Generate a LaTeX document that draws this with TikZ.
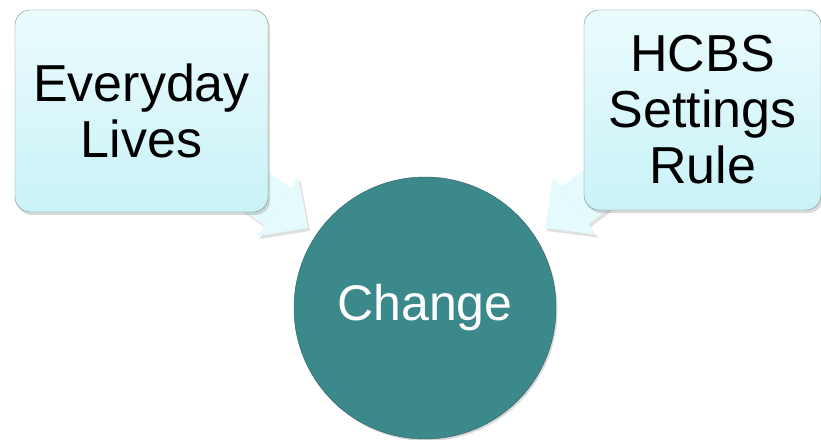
\documentclass[tikz,border=0pt]{standalone}
\usepackage{fontspec}
\setmainfont{Liberation Sans}
\usetikzlibrary{shapes.geometric, arrows.meta, shadows, backgrounds}
\definecolor{boxtop}{HTML}{EBFBFC}
\definecolor{boxbot}{HTML}{C9F3F8}
\definecolor{boxline}{HTML}{7C8B8D}
\definecolor{changefill}{HTML}{3C898C}
\definecolor{changeline}{HTML}{2E5E60}
\definecolor{arrowfill}{HTML}{E4FAFC}
\tikzstyle{stylebox} = [rectangle, rounded corners=15pt, minimum width=253pt, minimum height=202pt, text centered, align=center, draw=boxline, top color=boxtop, bottom color=boxbot, drop shadow={shadow xshift=2pt, shadow yshift=-3pt, opacity=0.3}, font=\fontsize{52}{56}\selectfont]
\tikzstyle{stylecircle} = [circle, minimum size=262pt, draw=changeline, fill=changefill, text=white, drop shadow={shadow xshift=1.5pt, shadow yshift=-2pt, opacity=0.3}, font=\fontsize{50}{58}\selectfont]
\tikzstyle{stylearrow} = [line width=46pt, draw=arrowfill, -{Triangle[length=37pt, width=72pt, line width=0pt]}]
\tikzstyle{styleshadow} = [line width=46pt, draw=black!12, -{Triangle[length=37pt, width=72pt, line width=0pt]}, transform canvas={shift={(2pt,-3pt)}}]

\begin{document}
\begin{tikzpicture}[x=1pt, y=1pt, node distance=283.5pt]
\useasboundingbox (0,0) rectangle (821,439);

\node (change) [stylecircle] at (425,131) {Change};
\node (everyday) [stylebox, left of=change, yshift=197pt] {Everyday\\Lives};
\node (hcbs) [stylebox, minimum width=237pt, minimum height=200pt, right of=change, xshift=-6pt, yshift=198pt] {HCBS\\Settings\\Rule};

\coordinate (ltip) at (308,211);
\coordinate (rtip) at (545,211);

\begin{pgfonlayer}{background}
\draw [styleshadow] (everyday.center) -- (ltip);
\draw [styleshadow] (hcbs.center) -- (rtip);
\draw [stylearrow] (everyday.center) -- (ltip);
\draw [stylearrow] (hcbs.center) -- (rtip);
\end{pgfonlayer}

\end{tikzpicture}
\end{document}
